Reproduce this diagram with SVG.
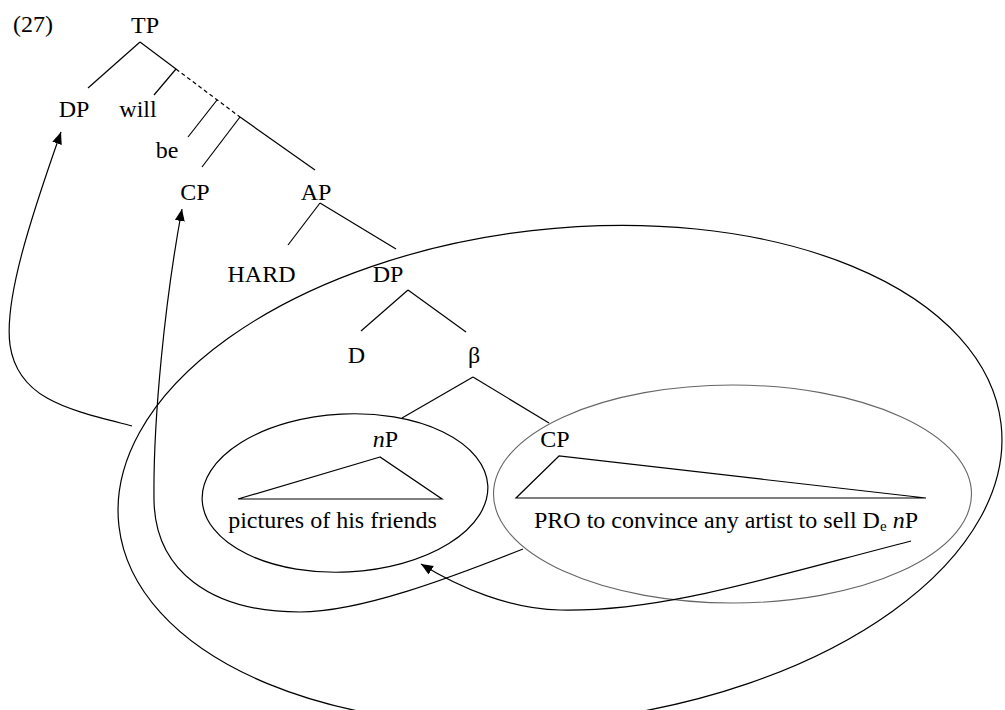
<svg xmlns="http://www.w3.org/2000/svg" width="1005" height="710" viewBox="0 0 1005 710">
<style>
text{font-family:"Liberation Serif","Times New Roman",serif;font-size:24px;fill:#000}
.m{text-anchor:middle}
.e{fill:none;stroke:#000;stroke-width:1.2}
.g{fill:none;stroke:#666;stroke-width:1.1}
.br{fill:none;stroke:#000;stroke-width:1.2}
.c{fill:none;stroke:#000;stroke-width:1.2}
</style>
<defs>
<marker id="ah" markerUnits="userSpaceOnUse" markerWidth="13" markerHeight="11" refX="12" refY="5" orient="auto">
<path d="M0,0 L12,5 L0,10 z" fill="#000"/>
</marker>
</defs>
<rect width="1005" height="710" fill="#fff"/>
<text x="13" y="32">(27)</text>
<g id="tree-lines">
<line class="br" x1="140" y1="42" x2="88" y2="88"/>
<line class="br" x1="140" y1="42" x2="176" y2="69"/>
<line class="br" x1="176" y1="69" x2="240" y2="117" stroke-dasharray="4,3"/>
<line class="br" x1="240" y1="117" x2="315" y2="170"/>
<line class="br" x1="176" y1="69" x2="154" y2="95"/>
<line class="br" x1="217" y1="100" x2="188" y2="137"/>
<line class="br" x1="240" y1="117" x2="202" y2="167"/>
<line class="br" x1="320" y1="203" x2="288" y2="245"/>
<line class="br" x1="320" y1="203" x2="396" y2="249"/>
<line class="br" x1="408" y1="290" x2="361" y2="331"/>
<line class="br" x1="408" y1="290" x2="466" y2="332"/>
<line class="br" x1="473" y1="377" x2="402" y2="418"/>
<line class="br" x1="473" y1="377" x2="549" y2="423"/>
</g>
<g id="n-TP"><text class="m" x="145" y="33">TP</text></g>
<g id="n-DP1"><text class="m" x="74" y="117">DP</text></g>
<g id="n-will"><text class="m" x="138" y="117">will</text></g>
<g id="n-be"><text class="m" x="167" y="158">be</text></g>
<g id="n-CP1"><text class="m" x="195" y="200">CP</text></g>
<g id="n-AP"><text class="m" x="316" y="200">AP</text></g>
<g id="n-HARD"><text class="m" x="261.5" y="282">HARD</text></g>
<g id="n-DP2"><text class="m" x="388" y="282">DP</text></g>
<g id="n-D"><text class="m" x="356.5" y="363">D</text></g>
<g id="n-beta"><text class="m" x="474" y="363">β</text></g>
<g id="n-nP">
<text class="m" x="385.5" y="447"><tspan font-style="italic">n</tspan>P</text>
<path class="br" d="M380,457 L238,499 L442,499 Z"/>
<text class="m" x="332.5" y="528">pictures of his friends</text>
</g>
<g id="n-CP2">
<text class="m" x="555" y="447">CP</text>
<path class="br" d="M559,456 L516,498 L926,498 Z"/>
<text class="m" x="726" y="528">PRO to convince any artist to sell D<tspan font-size="15" dy="3">e</tspan><tspan dy="-3"> </tspan><tspan font-style="italic">n</tspan>P</text>
</g>
<g id="ellipses">
<ellipse class="e" cx="560" cy="475" rx="444" ry="246" transform="rotate(-6.6 560 475)"/>
<ellipse class="e" cx="345" cy="493" rx="143" ry="79" transform="rotate(-3 345 493)"/>
<ellipse class="g" cx="732.5" cy="494" rx="239" ry="109"/>
</g>
<g id="connectors">
<path class="c" marker-end="url(#ah)" d="M132,426 C 70,410 18,400 10,345 C 4,300 30,220 61,132"/>
<path class="c" marker-end="url(#ah)" d="M523,549 C 450,578 360,612 300,612 C 210,612 155,570 154,500 C 153,420 165,300 182,209"/>
<path class="c" marker-end="url(#ah)" d="M911,541 C 760,580 660,612 560,610 C 510,609 460,588 421,564"/>
</g>
</svg>
